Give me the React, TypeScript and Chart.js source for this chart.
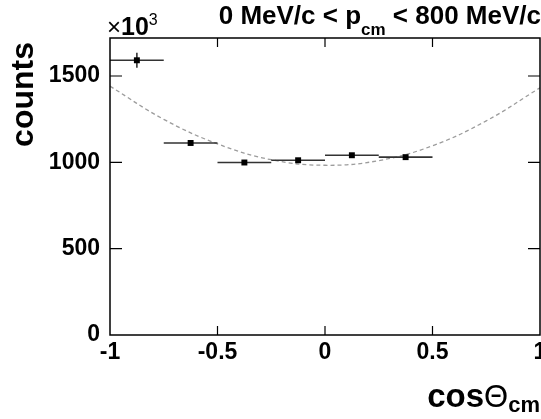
import React, { useEffect, useRef } from "react";
import { Chart, registerables } from "chart.js";

Chart.register(...registerables);

// ---- data (values in units of 10^3 counts) ----
const binCenters = [-0.875, -0.625, -0.375, -0.125, 0.125, 0.375];
const binHalfWidths = [0.125, 0.125, 0.125, 0.125, 0.125, 0.125];
const counts = [1591, 1112, 999, 1012, 1041, 1030];
const countErrors = [43, 9, 8, 8, 8, 8];
const fitX = [-1, -0.75, -0.5, -0.25, 0, 0.25, 0.5, 0.75, 1];
const fitY = [1441, 1249, 1107, 1015, 983, 1010, 1096, 1240, 1432];
const xTicks = [-1, -0.5, 0, 0.5, 1];
const yTicks = [0, 500, 1000, 1500];
const xRange = [-1, 1];
const yRange = [0, 1720];

const SANS = "'Liberation Sans', Arial, Helvetica, sans-serif";

type Part = { text: string; font: string; dy?: number };

function richWidth(ctx: CanvasRenderingContext2D, parts: Part[]) {
  let w = 0;
  for (const p of parts) {
    ctx.font = p.font;
    w += ctx.measureText(p.text).width;
  }
  return w;
}

function drawRich(ctx: CanvasRenderingContext2D, parts: Part[], x: number, y: number, align: "left" | "right") {
  const w = richWidth(ctx, parts);
  let cx = align === "right" ? x - w : x;
  ctx.textAlign = "left";
  ctx.textBaseline = "alphabetic";
  for (const p of parts) {
    ctx.font = p.font;
    ctx.fillText(p.text, cx, y + (p.dy || 0));
    cx += ctx.measureText(p.text).width;
  }
}

const rootPlugin = {
  id: "rootStyle",
  afterDatasetDraw(chart: any, args: any) {
    if (args.index !== 0) return;
    const ctx: CanvasRenderingContext2D = chart.ctx;
    const xs = chart.scales.x;
    const ys = chart.scales.y;
    ctx.save();
    ctx.strokeStyle = "#333";
    ctx.lineWidth = 1.6;
    for (let i = 0; i < binCenters.length; i++) {
      const y = ys.getPixelForValue(counts[i]);
      const x0 = xs.getPixelForValue(binCenters[i] - binHalfWidths[i]);
      const x1 = xs.getPixelForValue(binCenters[i] + binHalfWidths[i]);
      const xc = xs.getPixelForValue(binCenters[i]);
      const yl = ys.getPixelForValue(counts[i] - countErrors[i]);
      const yh = ys.getPixelForValue(counts[i] + countErrors[i]);
      ctx.beginPath();
      ctx.moveTo(x0, y);
      ctx.lineTo(x1, y);
      ctx.moveTo(xc, yl);
      ctx.lineTo(xc, yh);
      ctx.stroke();
    }
    ctx.restore();
  },
  afterDraw(chart: any) {
    const ctx: CanvasRenderingContext2D = chart.ctx;
    const { left, right, top, bottom } = chart.chartArea;
    const xs = chart.scales.x;
    const ys = chart.scales.y;
    ctx.save();
    ctx.strokeStyle = "#000";
    ctx.lineWidth = 1.5;
    ctx.strokeRect(left, top, right - left, bottom - top);
    ctx.beginPath();
    for (const v of xTicks) {
      if (v === xRange[0] || v === xRange[1]) continue;
      const px = xs.getPixelForValue(v);
      ctx.moveTo(px, bottom);
      ctx.lineTo(px, bottom - 9);
      ctx.moveTo(px, top);
      ctx.lineTo(px, top + 9);
    }
    for (const v of yTicks) {
      if (v === yRange[0]) continue;
      const py = ys.getPixelForValue(v);
      ctx.moveTo(left, py);
      ctx.lineTo(left + 12, py);
      ctx.moveTo(right, py);
      ctx.lineTo(right - 12, py);
    }
    ctx.lineWidth = 1.2;
    ctx.stroke();

    ctx.fillStyle = "#000";
    // title
    drawRich(
      ctx,
      [
        { text: "0 MeV/c < p", font: `bold 26px ${SANS}` },
        { text: "cm", font: `bold 17px ${SANS}`, dy: 11 },
        { text: " < 800 MeV/c", font: `bold 26px ${SANS}` },
      ],
      541,
      24,
      "right"
    );
    // multiplier
    drawRich(
      ctx,
      [
        { text: "\u00d7", font: `24px ${SANS}` },
        { text: "10", font: `bold 25px ${SANS}` },
        { text: "3", font: `16px ${SANS}`, dy: -10 },
      ],
      107,
      35,
      "left"
    );
    // y title
    ctx.save();
    ctx.translate(33, 42);
    ctx.rotate(-Math.PI / 2);
    ctx.font = `bold 32px ${SANS}`;
    ctx.textAlign = "right";
    ctx.textBaseline = "alphabetic";
    ctx.fillText("counts", 0, 0);
    ctx.restore();
    // x title
    drawRich(
      ctx,
      [
        { text: "cos", font: `bold 33px ${SANS}` },
        { text: "\u0398", font: `31px ${SANS}` },
        { text: "cm", font: `bold 22px ${SANS}`, dy: 5 },
      ],
      540,
      407,
      "right"
    );
    ctx.restore();
  },
};

export default function App() {
  const ref = useRef<HTMLCanvasElement | null>(null);
  useEffect(() => {
    document.body.style.margin = "0";
    const canvas = ref.current;
    if (!canvas) return;
    const tickFont = { family: SANS, size: 23, weight: "bold" as const };
    const chart = new Chart(canvas, {
      type: "scatter",
      data: {
        datasets: [
          {
            type: "line",
            label: "fit",
            data: fitX.map((x, i) => ({ x, y: fitY[i] })),
            borderColor: "#9c9c9c",
            borderWidth: 1.3,
            borderDash: [4, 3],
            pointRadius: 0,
            tension: 0.4,
            fill: false,
            order: 2,
          } as any,
          {
            type: "scatter",
            label: "data",
            data: binCenters.map((x, i) => ({ x, y: counts[i] })),
            pointStyle: "rect",
            pointRadius: 4.2,
            backgroundColor: "#000",
            borderWidth: 0,
            order: 1,
          } as any,
        ],
      },
      options: {
        animation: false,
        responsive: false,
        devicePixelRatio: 1,
        layout: { padding: { top: 38, right: 1, left: 0, bottom: 0 }, autoPadding: false } as any,
        plugins: {
          legend: { display: false },
          tooltip: { enabled: false },
          title: { display: false },
        },
        scales: {
          x: {
            type: "linear",
            min: xRange[0],
            max: xRange[1],
            grid: { display: false, drawTicks: false },
            border: { display: false },
            afterBuildTicks: (s: any) => {
              s.ticks = xTicks.map((v) => ({ value: v }));
            },
            afterFit: (s: any) => {
              s.height = 84;
              s.paddingLeft = 0;
              s.paddingRight = 0;
            },
            ticks: {
              font: tickFont,
              color: "#000",
              padding: 4,
              maxRotation: 0,
              autoSkip: false,
              callback: (v: any) => String(v),
            },
          },
          y: {
            type: "linear",
            min: yRange[0],
            max: yRange[1],
            grid: { display: false, drawTicks: false },
            border: { display: false },
            afterBuildTicks: (s: any) => {
              s.ticks = yTicks.map((v) => ({ value: v }));
            },
            afterFit: (s: any) => {
              s.width = 110;
              s.paddingTop = 0;
              s.paddingBottom = 0;
            },
            ticks: {
              font: tickFont,
              color: "#000",
              padding: 10,
              autoSkip: false,
              callback: (v: any) => String(v),
            },
          },
        },
      } as any,
      plugins: [rootPlugin],
    });
    return () => chart.destroy();
  }, []);
  return <canvas ref={ref} width={541} height={419} style={{ display: "block" }} />;
}
